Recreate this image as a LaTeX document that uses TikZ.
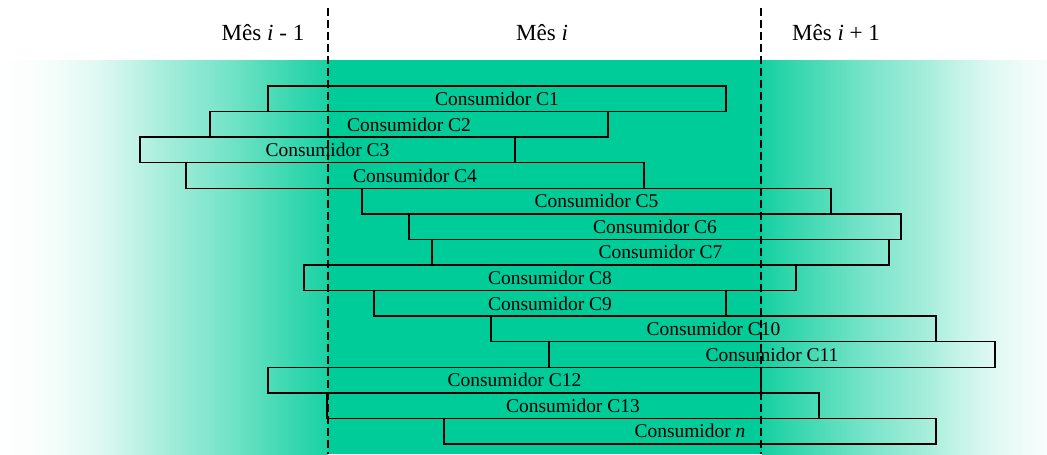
\documentclass[tikz,border=0pt]{standalone}
\usepackage{fontspec}
\setmainfont{Liberation Serif}
\definecolor{tealA}{RGB}{0,204,153}
\pgfdeclarehorizontalshading{fadein}{100bp}{color(0bp)=(white); color(25bp)=(white); color(30bp)=(tealA!2!white); color(35bp)=(tealA!6!white); color(40bp)=(tealA!13!white); color(45bp)=(tealA!23!white); color(50bp)=(tealA!35!white); color(55bp)=(tealA!45!white); color(60bp)=(tealA!55!white); color(65bp)=(tealA!67!white); color(70bp)=(tealA!79!white); color(75bp)=(tealA!90!white); color(100bp)=(tealA!90!white)}
\pgfdeclarehorizontalshading{fadeout}{100bp}{color(0bp)=(tealA!92!white); color(25bp)=(tealA!92!white); color(30bp)=(tealA!79!white); color(35bp)=(tealA!67!white); color(40bp)=(tealA!55!white); color(45bp)=(tealA!45!white); color(50bp)=(tealA!35!white); color(55bp)=(tealA!23!white); color(60bp)=(tealA!13!white); color(65bp)=(tealA!6!white); color(70bp)=(tealA!2!white); color(75bp)=(white); color(100bp)=(white)}
\tikzset{
  consbox/.style={draw=black, line width=1pt, inner sep=0pt, minimum height=19.18pt, font=\fontsize{14.6}{16}\selectfont},
  monthlabel/.style={inner sep=0pt, font=\fontsize{17.3}{19}\selectfont},
  divider/.style={draw=black, line width=0.9pt, dash pattern=on 6pt off 3pt}
}
\newcommand\consumer[5]{\node[consbox, minimum width={(#3-#2)*0.75pt}] (#1) at ({(#2+#3)/2}, {86+25.57*(#4-0.5)}) {#5};}
\begin{document}
\begin{tikzpicture}[x=0.75pt, y=-0.75pt]
\useasboundingbox (0,0) rectangle (1047,454);
\begin{scope}
\clip (0,0) rectangle (1047,454);
\fill[shading=fadein] (0,60) rectangle (328,454);
\fill[tealA] (327.5,60) rectangle (762.5,454);
\fill[shading=fadeout] (762,60) rectangle (1090,454);
\end{scope}
\node[monthlabel] (m1) at (263,33) {Mês \textit{i} - 1};
\node[monthlabel] (m2) at (542,33) {Mês \textit{i}};
\node[monthlabel] (m3) at (836,33) {Mês \textit{i} + 1};
\consumer{c1}{268}{726}{1}{Consumidor C1}
\consumer{c2}{210}{608}{2}{Consumidor C2}
\consumer{c3}{140}{515}{3}{Consumidor C3}
\consumer{c4}{186}{644}{4}{Consumidor C4}
\consumer{c5}{362}{831}{5}{Consumidor C5}
\consumer{c6}{409}{901}{6}{Consumidor C6}
\consumer{c7}{432}{889}{7}{Consumidor C7}
\consumer{c8}{304}{796}{8}{Consumidor C8}
\consumer{c9}{374}{726}{9}{Consumidor C9}
\consumer{c10}{491}{936}{10}{Consumidor C10}
\consumer{c11}{549}{995}{11}{Consumidor C11}
\consumer{c12}{268}{761}{12}{Consumidor C12}
\consumer{c13}{327}{819}{13}{Consumidor C13}
\consumer{cn}{444}{936}{14}{Consumidor \textit{n}}
\coordinate (d1t) at (328,8);
\coordinate (d1b) at (328,454);
\coordinate (d2t) at (761,8);
\coordinate (d2b) at (761,454);
\draw[divider] (d1t) -- (d1b);
\draw[divider] (d2t) -- (d2b);
\end{tikzpicture}
\end{document}
